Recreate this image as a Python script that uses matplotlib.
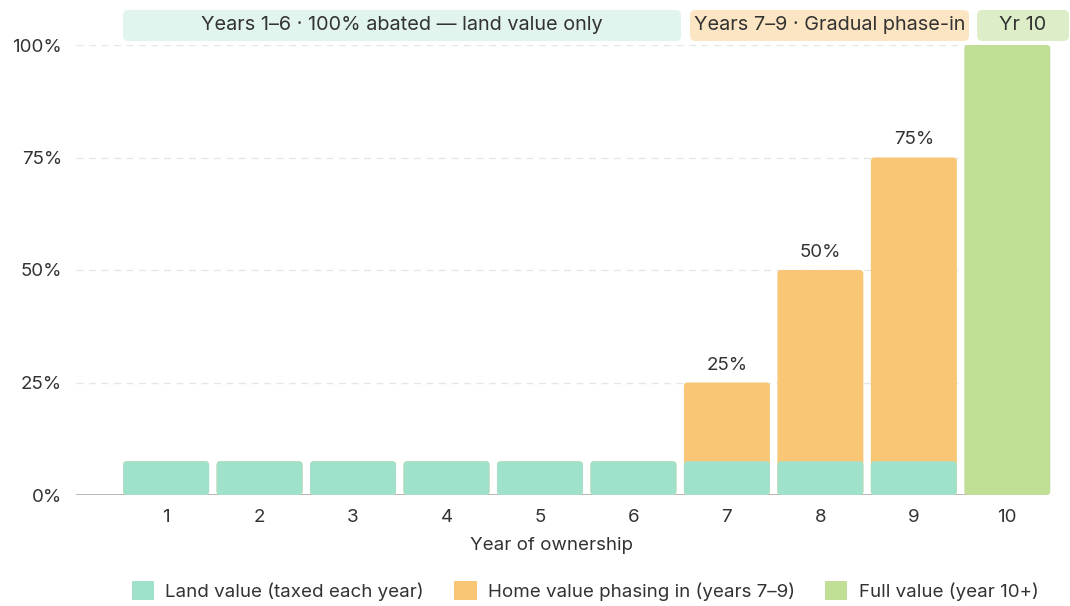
import matplotlib.pyplot as plt
from matplotlib.patches import FancyBboxPatch, Patch

plt.rcParams['font.family'] = ['Inter', 'DejaVu Sans']

years = [1, 2, 3, 4, 5, 6, 7, 8, 9, 10]
land = [7.5, 7.5, 7.5, 7.5, 7.5, 7.5, 7.5, 7.5, 7.5, 0]
home = [0, 0, 0, 0, 0, 0, 17.5, 42.5, 67.5, 0]
full = [0, 0, 0, 0, 0, 0, 0, 0, 0, 100]
phase_labels = {7: "25%", 8: "50%", 9: "75%"}
yticks = [0, 25, 50, 75, 100]
legend_labels = ["Land value (taxed each year)", "Home value phasing in (years 7\u20139)", "Full value (year 10+)"]
bands = [("Years 1\u20136 \u00b7 100% abated \u2014 land value only", 123, 681, "#e1f4ee"),
         ("Years 7\u20139 \u00b7 Gradual phase-in", 690, 969, "#fce5c3"),
         ("Yr 10", 977, 1069, "#dcedc8")]

c_land = "#a0e1cb"
c_home = "#f8c675"
c_full = "#c0de96"
txt = "#333333"

W, H = 1070, 606
fig = plt.figure(figsize=(W / 100, H / 100), dpi=100)
ax = fig.add_axes([76 / W, 1 - 495 / H, 950 / W, 450 / H])
ax.set_xlim(0.036, 10.2)
ax.set_ylim(0, 100)

bw = 0.92
asp = (100 / 450) / (1 / 93.4)

def rbar(x, y0, h, color, z=2):
    if h <= 0:
        return
    p = FancyBboxPatch((x - bw / 2, y0), bw, h,
                       boxstyle="round,pad=0,rounding_size=0.04",
                       mutation_aspect=asp, fc=color, ec="none",
                       clip_on=False, zorder=z)
    ax.add_patch(p)

for x, l, hm, f in zip(years, land, home, full):
    rbar(x, 0, l + hm, c_home, 2)
    rbar(x, 0, l, c_land, 3)
    rbar(x, 0, f, c_full, 2)
    if x in phase_labels:
        ax.text(x, l + hm + 2.0, phase_labels[x], ha="center", va="bottom",
                fontsize=13.5, color=txt)

for yv in yticks[1:]:
    ax.axhline(yv, color="#e6e6e6", lw=1, ls=(0, (5, 4)), zorder=0)
ax.axhline(0, color="#aaaaaa", lw=1.2, zorder=1.5)

ax.set_yticks(yticks)
ax.set_yticklabels([f"{v}%" for v in yticks])
ax.set_xticks(years)
ax.set_xticklabels([str(y) for y in years])
ax.tick_params(length=0, labelsize=13.5, colors=txt, pad=10)
ax.tick_params(axis="y", pad=10)
for s in ax.spines.values():
    s.set_visible(False)
ax.set_xlabel("Year of ownership", fontsize=13.5, color=txt, labelpad=8)

for label, x0, x1, col in bands:
    b = FancyBboxPatch((x0 / W, 1 - 41 / H), (x1 - x0) / W, 31 / H,
                       boxstyle="round,pad=0,rounding_size=0.005",
                       mutation_aspect=W / H, transform=fig.transFigure,
                       fc=col, ec="none")
    fig.patches.append(b)
    fig.text((x0 + x1) / 2 / W, 1 - 25.5 / H, label, ha="center", va="center",
             fontsize=14.3, color=txt)

handles = [Patch(fc=c_land, ec="none"), Patch(fc=c_home, ec="none"), Patch(fc=c_full, ec="none")]
fig.legend(handles, legend_labels, loc="center", bbox_to_anchor=(585 / W, 1 - 591 / H),
           ncol=3, frameon=False, fontsize=13.5, handlelength=1.2, handleheight=1.2,
           columnspacing=1.6, handletextpad=0.6, labelcolor=txt)

fig.savefig("out.png", dpi=100)
